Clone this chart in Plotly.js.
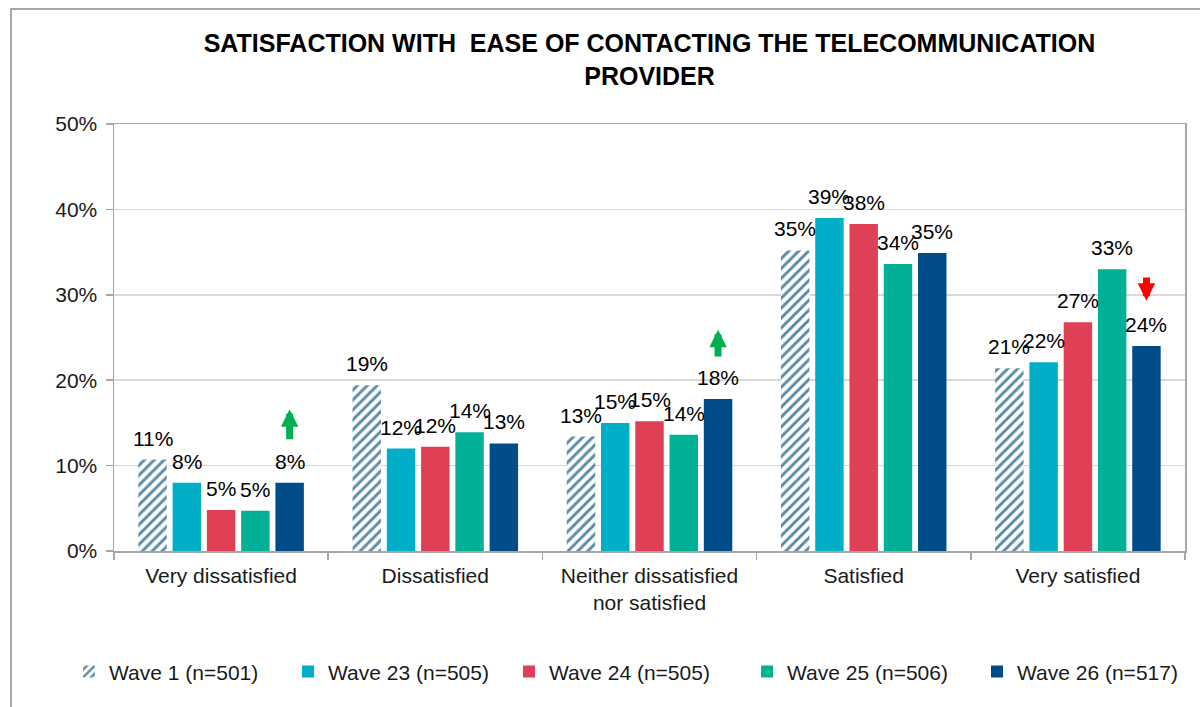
<!DOCTYPE html>
<html>
<head>
<meta charset="utf-8">
<script src="https://cdn.plot.ly/plotly-3.0.1.min.js"></script>
<style>
  html, body { margin: 0; padding: 0; background: #ffffff; }
  #chart { width: 1200px; height: 707px; }
</style>
</head>
<body>
<div id="chart"></div>
<script>
// ---- Data (percent) ----
const categories = [
  "Very dissatisfied",
  "Dissatisfied",
  "Neither dissatisfied<br>nor satisfied",
  "Satisfied",
  "Very satisfied"
];
const seriesNames = [
  "Wave 1 (n=501)",
  "Wave 23 (n=505)",
  "Wave 24 (n=505)",
  "Wave 25 (n=506)",
  "Wave 26 (n=517)"
];
const wave1  = [10.7, 19.4, 13.4, 35.2, 21.4];
const wave23 = [8.0, 12.0, 15.0, 39.0, 22.1];
const wave24 = [4.8, 12.2, 15.2, 38.3, 26.8];
const wave25 = [4.7, 13.9, 13.6, 33.6, 33.0];
const wave26 = [8.0, 12.6, 17.8, 34.9, 24.0];
const yTicks = [0, 10, 20, 30, 40, 50];
const yTickText = yTicks.map(v => v + "%");

// significance arrows: category index, tip value, tail value, colour
const sigArrows = [
  { cat: 0, tip: 16.6, tail: 12.9, color: "#00B050" },
  { cat: 2, tip: 25.9, tail: 22.6, color: "#00B050" },
  { cat: 4, tip: 29.3, tail: 32.2, color: "#FF0000" }
];

const colors = ["#5B8AA6", "#00AEC7", "#E04055", "#00B197", "#004C88"];
const font = "Liberation Sans, Arial, sans-serif";
const allSeries = [wave1, wave23, wave24, wave25, wave26];
const legendIds = ["legend", "legend2", "legend3", "legend4", "legend5"];
// legend left edges (paper fraction)
const legendX = [-0.042, 0.1625, 0.3688, 0.5911, 0.8058];

const traces = allSeries.map((vals, i) => {
  const t = {
    type: "bar",
    name: seriesNames[i],
    legend: legendIds[i],
    x: categories,
    y: vals,
    hoverinfo: "skip",
    marker: { color: colors[i], line: { width: 0 } }
  };
  if (i === 0) {
    t.marker = {
      color: "#ffffff",
      line: { width: 0 },
      pattern: { shape: "/", fgcolor: colors[0], bgcolor: "#ffffff", size: 7, solidity: 0.42 }
    };
  }
  return t;
});

const nSeries = allSeries.length;
const bargap = 0.2;
const slot = (1 - bargap) / nSeries;
const lastOffset = (nSeries - 1) / 2 * slot;

// value labels above each bar (placed on the category axis at each bar's centre)
const labelAnnotations = [];
allSeries.forEach((vals, s) => {
  vals.forEach((v, c) => {
    labelAnnotations.push({
      xref: "x", yref: "y",
      x: c + (s - (nSeries - 1) / 2) * slot, y: v,
      xanchor: "center", yanchor: "bottom", yshift: 8,
      text: Math.round(v) + "%",
      showarrow: false,
      font: { family: font, size: 21, color: "#000000" }
    });
  });
});

const arrowAnnotations = sigArrows.map(a => ({
  xref: "x", yref: "y", axref: "x", ayref: "y",
  x: a.cat + lastOffset, y: a.tip,
  ax: a.cat + lastOffset, ay: a.tail,
  text: "", showarrow: true,
  arrowhead: 2, arrowsize: 0.5, arrowwidth: 7,
  arrowcolor: a.color
}));

const layout = {
  width: 1200, height: 707,
  paper_bgcolor: "#ffffff", plot_bgcolor: "#ffffff",
  margin: { l: 114, r: 15, t: 124, b: 156 },
  font: { family: font, size: 21, color: "#1a1a1a" },
  title: {
    text: "<b>SATISFACTION WITH  EASE OF CONTACTING THE TELECOMMUNICATION<br>PROVIDER</b>",
    font: { family: font, size: 25, color: "#000000" },
    xref: "paper", x: 0.5, xanchor: "center",
    yref: "container", y: 1 - 52 / 707, yanchor: "middle"
  },
  barmode: "group",
  bargap: bargap,
  bargroupgap: 0.17,
  showlegend: true,
  xaxis: {
    type: "category",
    showline: true, linecolor: "#A6A6A6", linewidth: 1.5, mirror: true,
    ticks: "outside", tickson: "boundaries", ticklen: 7, tickcolor: "#A6A6A6", tickwidth: 1.5,
    ticklabelstandoff: 5,
    tickfont: { family: font, size: 21, color: "#1a1a1a" },
    showgrid: false, fixedrange: true
  },
  yaxis: {
    range: [0, 50],
    tickmode: "array",
    tickvals: yTicks,
    ticktext: yTickText,
    showline: true, linecolor: "#A6A6A6", linewidth: 1.5, mirror: true,
    ticks: "outside", ticklen: 7, tickcolor: "#A6A6A6", tickwidth: 1.5,
    ticklabelstandoff: 4,
    showgrid: true, gridcolor: "#D9D9D9", gridwidth: 1.5,
    zeroline: false,
    tickfont: { family: font, size: 21, color: "#1a1a1a" },
    fixedrange: true
  },
  shapes: [{
    type: "rect", xref: "paper", yref: "paper",
    x0: (11 - 114) / 1071, x1: 1.05,
    y0: -0.6, y1: (551 - 9) / 427,
    line: { color: "#8C8C8C", width: 1.5 },
    fillcolor: "rgba(0,0,0,0)",
    layer: "below"
  }],
  annotations: labelAnnotations.concat(arrowAnnotations)
};

legendIds.forEach((id, i) => {
  layout[id] = {
    orientation: "h",
    x: legendX[i], xanchor: "left",
    y: -0.283, yanchor: "middle",
    font: { family: font, size: 21, color: "#1a1a1a" },
    bgcolor: "rgba(0,0,0,0)",
    borderwidth: 0
  };
});

Plotly.newPlot("chart", traces, layout, { displayModeBar: false, staticPlot: true });
</script>
</body>
</html>
